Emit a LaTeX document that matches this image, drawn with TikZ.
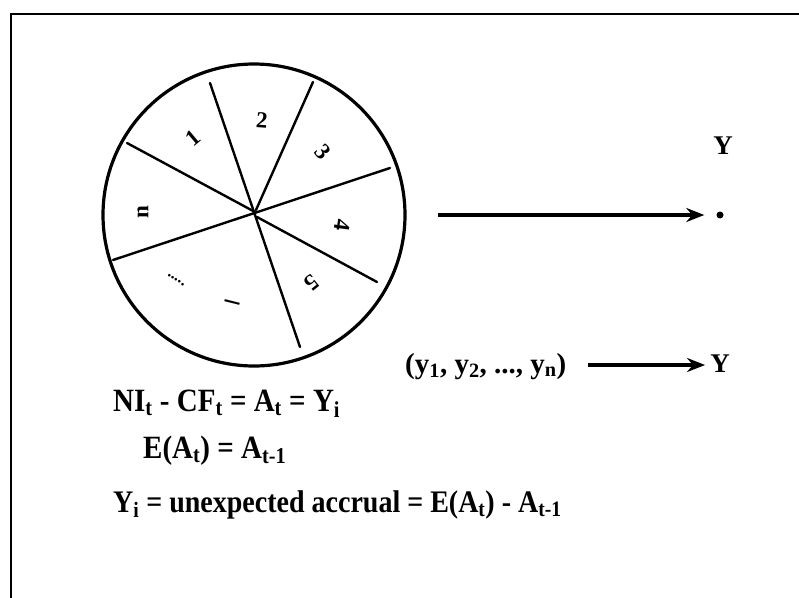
\documentclass[tikz,border=0pt]{standalone}
\usepackage{fontspec}
\setmainfont{Liberation Serif}
\usetikzlibrary{arrows.meta}
\begin{document}
\begin{tikzpicture}[x=1pt,y=1pt,
  frame/.style={line width=2.8pt},
  wheel/.style={circle,draw,line width=3.2pt,minimum size=302pt,inner sep=0pt},
  spoke/.style={line width=2.4pt,line cap=round},
  seclabel/.style={font=\fontsize{23}{23}\selectfont\bfseries,inner sep=0pt},
  eqn/.style={anchor=base west,inner sep=0pt,yscale=1.12},
  bigarrow/.style={line width=3.6pt,-{Stealth[length=18pt,width=14pt]}},
  ylabel/.style={font=\fontsize{27}{27}\selectfont\bfseries,inner sep=0pt}
]
\useasboundingbox (0,0) rectangle (799,-597);
\draw[frame] (11,-600) -- (11,-14) -- (802,-14);

\node[wheel] (W) at (254,-215) {};
% spokes
\draw[spoke] (210,-83) -- (300,-347);
\draw[spoke] (390,-168) -- (113,-260);
\draw[spoke] (127,-143) -- (255,-212);
\draw[spoke] (313,-82) -- (256,-210);
\draw[spoke] (377,-282) -- (257,-217);
% sector labels
\node[seclabel,rotate=40] (l1) at (193,-138) {1};
\node[seclabel,rotate=-4] (l2) at (262,-120) {2};
\node[seclabel,rotate=-49] (l3) at (323,-152) {3};
\node[seclabel,rotate=-98] (l4) at (342,-225) {4};
\node[seclabel,rotate=-141] (l5) at (312,-283) {5};
\node[font=\fontsize{30}{30}\selectfont\bfseries,inner sep=0pt,rotate=166] (li) at (233,-300) {\textendash};
\node[font=\fontsize{16}{16}\selectfont\bfseries,inner sep=0pt,rotate=-33] (ld) at (176,-280) {.....};
\node[seclabel,rotate=90] (ln) at (143,-212) {n};

% first arrow
\coordinate (a1) at (438,-215);
\node[circle,fill,inner sep=0pt,minimum size=7pt] (dot) at (720,-215) {};
\node[ylabel] (Y1) at (723,-146) {Y};
\draw[bigarrow] (a1) -- ([xshift=-12pt]dot.west);

% second arrow
\node[anchor=base west,inner sep=0pt,font=\fontsize{29}{29}\selectfont\bfseries] (yseq) at (405,-373)
  {(y\textsubscript{1}, y\textsubscript{2}, ..., y\textsubscript{n})};
\node[ylabel,anchor=base] (Y2) at (720,-372) {Y};
\coordinate (a2) at (588,-365);
\draw[bigarrow] (a2) -- ([xshift=-5pt]Y2.west |- a2);

% equations
\node[eqn,font=\fontsize{29}{29}\selectfont\bfseries] (e1) at (113,-411)
  {NI\textsubscript{t} - CF\textsubscript{t} = A\textsubscript{t} = Y\textsubscript{i}};
\node[eqn,font=\fontsize{29}{29}\selectfont\bfseries] (e2) at (143,-458)
  {E(A\textsubscript{t}) = A\textsubscript{t-1}};
\node[eqn,font=\fontsize{28}{28}\selectfont\bfseries] (e3) at (113,-512)
  {Y\textsubscript{i} = unexpected accrual = E(A\textsubscript{t}) - A\textsubscript{t-1}};
\end{tikzpicture}
\end{document}
